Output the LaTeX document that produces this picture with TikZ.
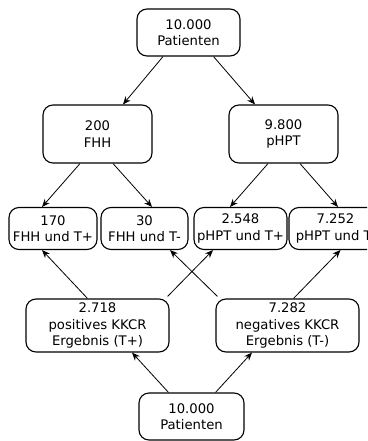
\documentclass[tikz,border=0pt]{standalone}
\usepackage{fontspec}
\setmainfont{DejaVu Sans}
\usetikzlibrary{arrows.meta}
\begin{document}
\begin{tikzpicture}[x=1pt,y=-1pt,
  box/.style={draw, line width=1.1pt, rounded corners=10pt, align=center,
    inner sep=0pt, font=\fontsize{13.2}{16.5}\selectfont},
  arr/.style={-{Stealth[length=8pt,width=6.5pt]}, line width=0.8pt}]
\clip (0,0) rectangle (367,441);
\useasboundingbox (0,0) rectangle (367,441);
\node[box, minimum width=103pt, minimum height=47pt] (top) at (188.5,32.5) {10.000\\Patienten};
\node[box, minimum width=109pt, minimum height=58pt] (fhh) at (97.5,134) {200\\FHH};
\node[box, minimum width=109pt, minimum height=58pt] (phpt) at (283.5,134) {9.800\\pHPT};
\node[box, minimum width=88pt, minimum height=42pt] (a) at (53,228.5) {170\\FHH und T+};
\node[box, minimum width=87pt, minimum height=42pt] (b) at (144.5,228.5) {30\\FHH und T-};
\node[box, minimum width=93pt, minimum height=42pt] (c) at (240.5,228.5) {2.548\\pHPT und T+};
\node[box, minimum width=93pt, minimum height=42pt] (d) at (335.5,228.5) {7.252\\pHPT und T-};
\node[box, minimum width=143pt, minimum height=53pt] (pos) at (97.5,325.5) {2.718\\positives KKCR\\Ergebnis (T+)};
\node[box, minimum width=143pt, minimum height=53pt] (neg) at (287.5,325.5) {7.282\\negatives KKCR\\Ergebnis (T-)};
\node[box, minimum width=105pt, minimum height=47pt] (bot) at (191.5,416.5) {10.000\\Patienten};
\draw[arr] ([xshift=-25.5pt]top.south) -- ([xshift=25.5pt]fhh.north);
\draw[arr] ([xshift=25pt]top.south) -- ([xshift=-28.5pt]phpt.north);
\draw[arr] ([xshift=-17.5pt]fhh.south) -- ([xshift=-11pt]a.north);
\draw[arr] ([xshift=15.5pt]fhh.south) -- ([xshift=7.5pt]b.north);
\draw[arr] ([xshift=-15.5pt]phpt.south) -- ([xshift=-10.5pt]c.north);
\draw[arr] ([xshift=16.5pt]phpt.south) -- ([xshift=2.5pt]d.north);
\draw[arr] ([xshift=-10pt]pos.north) -- ([xshift=-11pt]a.south);
\draw[arr] ([xshift=-2pt,yshift=2pt]pos.north east) -- ([xshift=-27.5pt]c.south);
\draw[arr] ([xshift=2pt,yshift=2pt]neg.north west) -- ([xshift=25.5pt]b.south);
\draw[arr] ([xshift=6pt]neg.north) -- ([xshift=5pt]d.south);
\draw[arr] ([xshift=-23pt]bot.north) -- ([xshift=34.5pt]pos.south);
\draw[arr] ([xshift=24pt]bot.north) -- ([xshift=-35.5pt]neg.south);
\end{tikzpicture}
\end{document}
